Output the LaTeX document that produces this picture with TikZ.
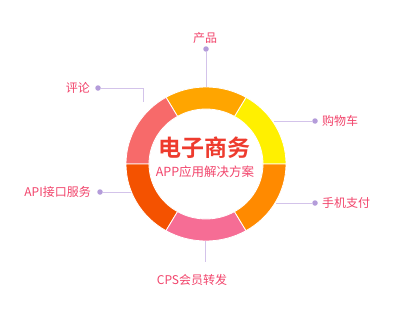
\documentclass[tikz,border=0pt]{standalone}
\usepackage{fontspec}
\usepackage{tikz}
\newfontfamily\cjk{Noto Sans CJK SC}[BoldFont={Noto Sans CJK SC Bold}]
\definecolor{cyel}{HTML}{FFF000}
\definecolor{corg}{HTML}{FFA500}
\definecolor{cpnk}{HTML}{F76A6A}
\definecolor{cred}{HTML}{F45200}
\definecolor{crose}{HTML}{F66D95}
\definecolor{corgb}{HTML}{FF8A00}
\definecolor{ctxt}{HTML}{F2456C}
\definecolor{ctitle}{HTML}{EE3B2E}
\definecolor{cline}{HTML}{D3C3EA}
\definecolor{cdot}{HTML}{B49CDA}
\tikzstyle{lbl}=[font=\cjk\fontsize{12}{14}\selectfont,text=ctxt,inner sep=0pt]
\tikzstyle{lead}=[draw=cline,line width=1pt]
\tikzstyle{dotc}=[circle,fill=cdot,minimum size=5.5pt,inner sep=0pt]

\begin{document}
\begin{tikzpicture}[x=1pt,y=1pt]
      \useasboundingbox[fill=white] (0,0) rectangle (403,314);
      \begin{scope}[shift={(206,150)}]
        \foreach \a/\c in {0/cyel,60/corg,120/cpnk,180/cred,240/crose,300/corgb}
          \filldraw[fill=\c,draw=white,line width=0.8pt] (\a:80 and 77)
            arc[start angle=\a,end angle=\a+60,x radius=80,y radius=77]
            -- (\a+60:57 and 55)
            arc[start angle=\a+60,end angle=\a,x radius=57,y radius=55] -- cycle;
      \end{scope}
      \node[font=\cjk\bfseries\fontsize{23}{25}\selectfont,text=ctitle] (T) at (204,166) {电子商务};
      \node[font=\cjk\fontsize{12.5}{14}\selectfont,text=ctxt] (S) at (205,142) {APP应用解决方案};
      % leaders
      \coordinate (r1) at (206,227);
      \coordinate (r2) at (143,212);
      \coordinate (k2) at (143,226);
      \coordinate (r3) at (131,122);
      \coordinate (r4) at (274,193);
      \coordinate (r5) at (276,111);
      \coordinate (r6) at (205,73);
      \coordinate (e6) at (205,52);
      \node[dotc] (d1) at (206,265) {};
      \node[dotc] (d2) at (98,226) {};
      \node[dotc] (d3) at (100,122) {};
      \node[dotc] (d4) at (315,193) {};
      \node[dotc] (d5) at (315,111) {};
      \node[lbl] (l1) at (205,276) {产品};
      \node[lbl,anchor=east] (l2) at (90,226) {评论};
      \node[lbl,anchor=east] (l3) at (91,122) {API接口服务};
      \node[lbl,anchor=west] (l4) at (322,193) {购物车};
      \node[lbl,anchor=west] (l5) at (322,111) {手机支付};
      \node[lbl] (l6) at (192,34) {CPS会员转发};
      \draw[lead] (d1) -- (r1);
      \draw[lead] (d2) -- (k2) -- (r2);
      \draw[lead] (d3) -- (r3);
      \draw[lead] (d4) -- (r4);
      \draw[lead] (d5) -- (r5);
      \draw[lead] (r6) -- (e6);
  \end{tikzpicture}
\end{document}
